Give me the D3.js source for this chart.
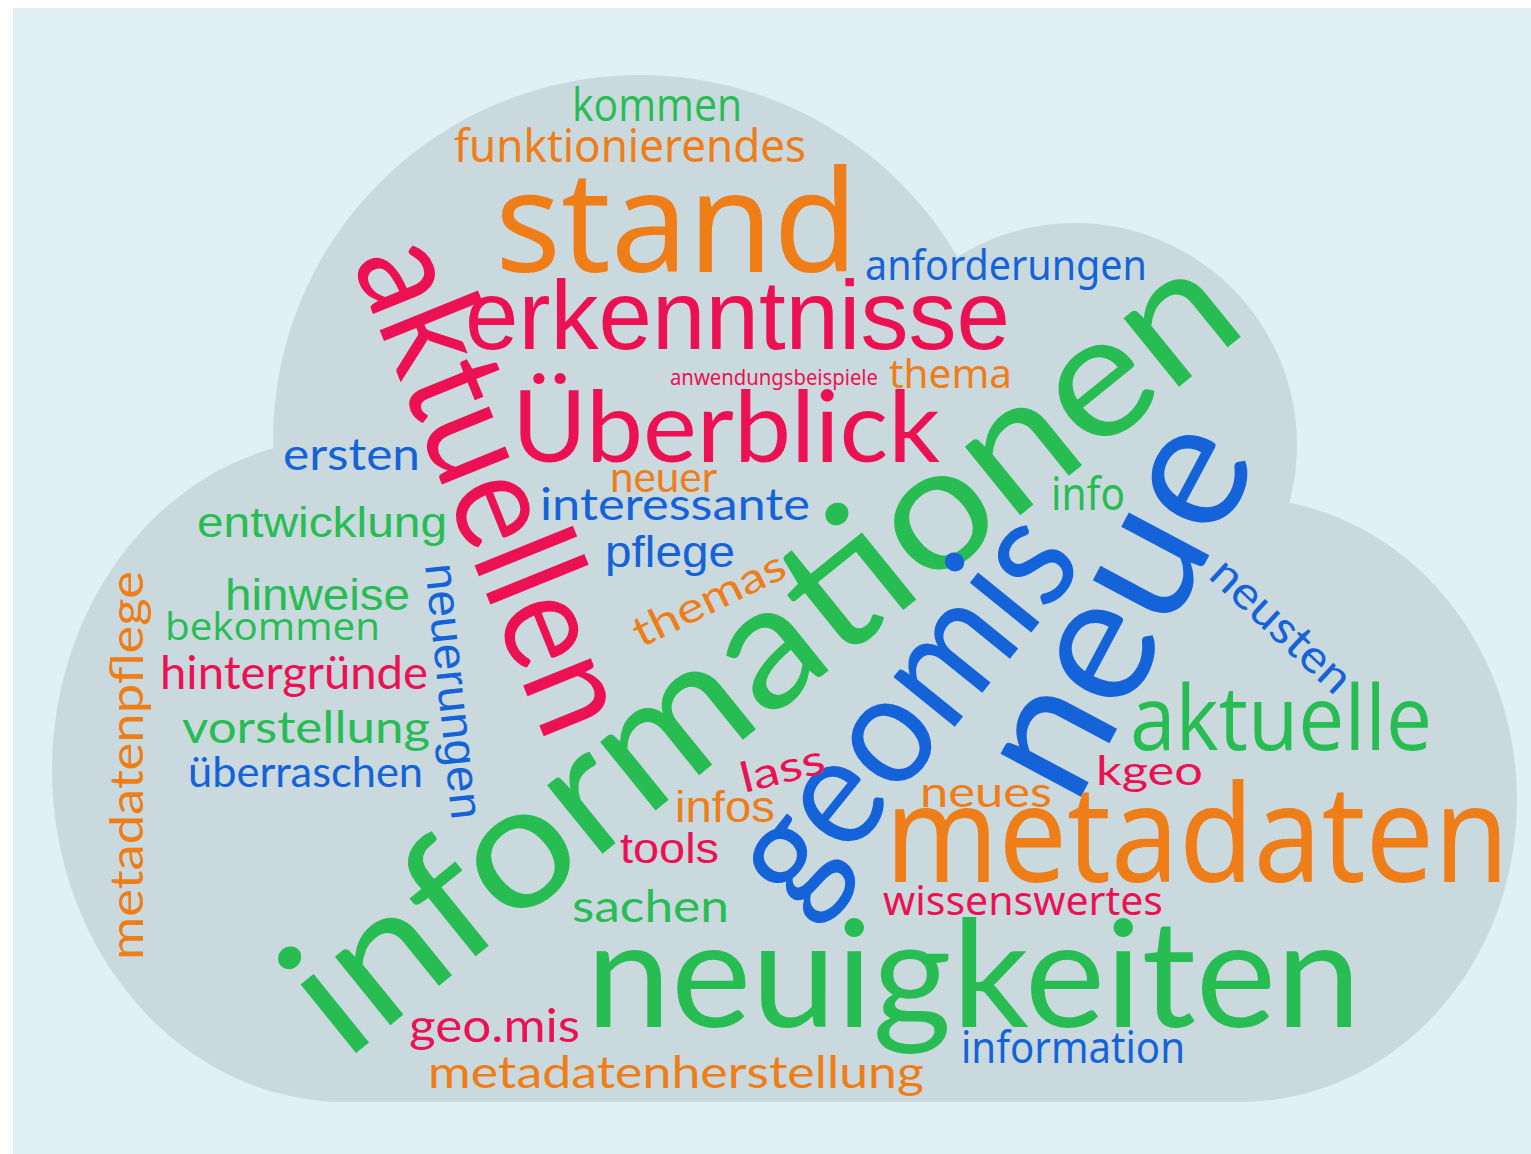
<!DOCTYPE html>
<html>
<head>
<meta charset="utf-8">
<script src="https://cdn.jsdelivr.net/npm/d3@7"></script>
<style>
  html, body { margin: 0; padding: 0; background: #ffffff; }
  svg { display: block; }
</style>
</head>
<body>
<div id="container"></div>
<script>
// words of the cloud and how often they were named
var words = ['kommen', 'funktionierendes', 'stand', 'anforderungen', 'erkenntnisse', 'aktuellen',
  'anwendungsbeispiele', 'thema', 'Überblick', 'ersten', 'neuer', 'interessante', 'info',
  'entwicklung', 'pflege', 'informationen', 'geomis', 'neue', 'themas', 'hinweise', 'bekommen',
  'metadatenpflege', 'neuerungen', 'hintergründe', 'vorstellung', 'überraschen', 'lass', 'infos',
  'tools', 'neues', 'kgeo', 'aktuelle', 'neusten', 'metadaten', 'wissenswertes', 'sachen',
  'neuigkeiten', 'geo.mis', 'information', 'metadatenherstellung'];
var weights = [11.5, 11.25, 35, 10.5, 24.5, 36,
  5.25, 10, 24.5, 11.25, 10.75, 11, 11.25,
  10.5, 11, 43.5, 39, 45, 10.5, 11.25, 9.5,
  11.5, 11.5, 11.5, 11, 10.5, 10.5, 11,
  10.75, 10.75, 10, 22.5, 11.5, 33.75, 10, 11,
  37.5, 11.5, 10.75, 11];

// placement of each word: x, y (baseline start), rotation, span, font, colour
var layout = [
  [572, 121, 0, 170, 'G', 'g'], [454, 162, 0, 352, 'C', 'o'], [495, 272, 0, 363, 'C', 'o'],
  [865, 280, 0, 282, 'C', 'b'], [465, 349, 0, 545, 'A', 'r'], [352, 262, 68, 520, 'R', 'r'],
  [670, 385, 0, 208, 'C', 'r'], [889, 388, 0, 123, 'C', 'o'], [512, 462, 0, 428, 'R', 'r'],
  [283, 470, 0, 137, 'R', 'b'], [610, 492, 0, 107, 'R', 'o'], [540, 520, 0, 270, 'R', 'b'],
  [1051, 510, 0, 74, 'C', 'g'], [197, 537, 0, 250, 'A', 'g'], [605, 567, 0, 130, 'A', 'b'],
  [345, 1062, -39, 1165, 'R', 'g'], [800, 918, -51, 455, 'R', 'b'], [1075, 808, -62, 395, 'R', 'b'],
  [641, 648, -26, 165, 'R', 'o'], [225, 610, 0, 185, 'A', 'g'], [165, 640, 0, 215, 'G', 'g'],
  [143, 960, -90, 389, 'R', 'o'], [425, 565, 84, 257, 'A', 'b'], [160, 689, 0, 268, 'R', 'r'],
  [182, 743, 0, 248, 'R', 'g'], [188, 787, 0, 235, 'R', 'b'], [744, 793, -14, 86, 'R', 'r'],
  [675, 822, 0, 100, 'A', 'o'], [620, 863, 0, 99, 'A', 'r'], [920, 807, 0, 132, 'R', 'o'],
  [1096, 785, 0, 107, 'R', 'r'], [1130, 750, 0, 302, 'G', 'g'], [1207, 577, 43, 175, 'R', 'b'],
  [885, 882, 0, 624, 'C', 'o'], [883, 915, 0, 280, 'C', 'r'], [572, 922, 0, 157, 'R', 'g'],
  [586, 1027, 0, 775, 'R', 'g'], [409, 1042, 0, 171, 'R', 'r'], [961, 1063, 0, 224, 'C', 'b'],
  [428, 1088, 0, 496, 'R', 'o']
];

// cloud outline lobes (cx, cy, rx, ry) and body
var lobes = [[640, 440, 367, 365], [1075, 445, 222, 222], [1240, 800, 277, 302], [345, 770, 293, 332]];
var body = [345, 450, 1240, 1102];

var fonts = {
  R: 'Lato, sans-serif',
  A: '"Liberation Sans", Arial, sans-serif',
  C: '"Noto Sans", sans-serif',
  G: '"Open Sans", sans-serif'
};
var colors = { g: '#27bd53', o: '#ef7d18', r: '#ec1152', b: '#1463d8' };

var width = 1531, height = 1154;

var svg = d3.select('#container')
  .append('svg')
  .attr('width', width)
  .attr('height', height);

var x = d3.scaleLinear().domain([0, 1531]).range([0, width]);
var y = d3.scaleLinear().domain([0, 1154]).range([0, height]);
var fontSize = d3.scaleLinear().domain([0, 50]).range([0, 200]);

svg.append('rect')
  .attr('x', x(13)).attr('y', y(8))
  .attr('width', width - x(13)).attr('height', height - y(8))
  .attr('fill', '#e0f0f4');

var cloud = svg.append('g').attr('fill', '#c9d9de');
cloud.selectAll('ellipse')
  .data(lobes)
  .enter()
  .append('ellipse')
  .attr('cx', d => x(d[0]))
  .attr('cy', d => y(d[1]))
  .attr('rx', d => x(d[2]) - x(0))
  .attr('ry', d => y(d[3]) - y(0));
cloud.append('rect')
  .attr('x', x(body[0])).attr('y', y(body[1]))
  .attr('width', x(body[2]) - x(body[0]))
  .attr('height', y(body[3]) - y(body[1]));

var data = words.map((w, i) => ({ text: w, weight: weights[i], place: layout[i] }));

svg.append('g')
  .selectAll('text')
  .data(data)
  .enter()
  .append('text')
  .attr('transform', d => 'translate(' + x(d.place[0]) + ',' + y(d.place[1]) + ') rotate(' + d.place[2] + ')')
  .attr('font-family', d => fonts[d.place[4]])
  .attr('font-size', d => fontSize(d.weight) + 'px')
  .attr('fill', d => colors[d.place[5]])
  .attr('textLength', d => x(d.place[3]) - x(0))
  .attr('lengthAdjust', 'spacingAndGlyphs')
  .text(d => d.text);
</script>
</body>
</html>
